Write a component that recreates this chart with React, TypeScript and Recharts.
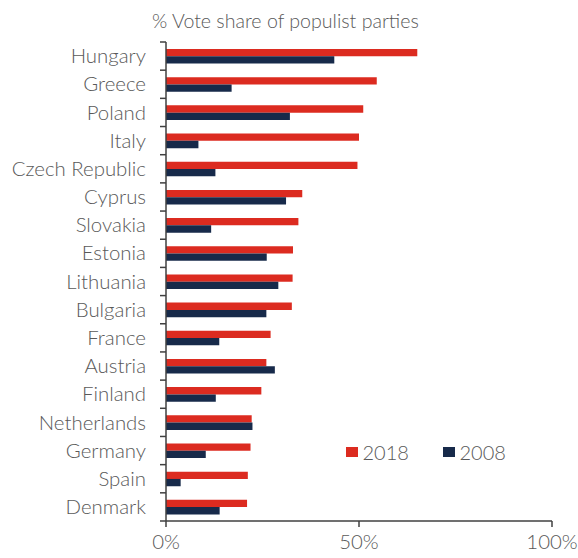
import React from 'react';
import { BarChart, Bar, XAxis, YAxis } from 'recharts';

const countries = ['Hungary', 'Greece', 'Poland', 'Italy', 'Czech Republic', 'Cyprus', 'Slovakia', 'Estonia', 'Lithuania', 'Bulgaria', 'France', 'Austria', 'Finland', 'Netherlands', 'Germany', 'Spain', 'Denmark'];
const share2018 = [65.1, 54.6, 51.1, 50.0, 49.6, 35.3, 34.3, 32.9, 32.8, 32.6, 27.1, 26.0, 24.7, 22.2, 21.9, 21.2, 21.0];
const share2008 = [43.6, 17.0, 32.1, 8.4, 12.8, 31.1, 11.7, 26.1, 29.1, 26.0, 13.8, 28.2, 12.9, 22.4, 10.3, 3.8, 13.9];
const xTicks = [0, 50, 100];
const seriesNames = ['2018', '2008'];

const data = countries.map((c, i) => ({ country: c, y2018: share2018[i], y2008: share2008[i] }));

const W = 578;
const H = 558;
const M = { top: 42, right: 26, left: 0, bottom: 0 };
const YW = 166;
const XH = 37;
const AXIS_X = M.left + YW;
const BAND = (H - M.top - M.bottom - XH) / countries.length;

const RED = '#DC2B20';
const NAVY = '#172A4A';
const TEXT = '#595959';
const AXIS = '#404040';
const FONT = 'Lato, "Open Sans", sans-serif';

const YTick = (props: any) => {
  const { y, payload, index } = props;
  const top = y - BAND / 2;
  const isLast = index === countries.length - 1;
  return (
    <g>
      <line x1={AXIS_X - 6} x2={AXIS_X} y1={top} y2={top} stroke={AXIS} strokeWidth={1.5} />
      {isLast && <line x1={AXIS_X - 6} x2={AXIS_X} y1={top + BAND} y2={top + BAND} stroke={AXIS} strokeWidth={1.5} />}
      <text x={AXIS_X - 20} y={y} dy="0.35em" textAnchor="end" fill={TEXT} fontSize={20.4} fontFamily={FONT} fontWeight={300}>
        {payload.value}
      </text>
    </g>
  );
};

const LegendBox = () => {
  const colors = [RED, NAVY];
  return (
    <div style={{ position: 'absolute', left: 346, top: 442, display: 'flex', alignItems: 'center' }}>
      {seriesNames.map((n, i) => (
        <div key={n} style={{ display: 'flex', alignItems: 'center', width: 97 }}>
          <div style={{ width: 11.5, height: 10.5, background: colors[i], marginRight: 5 }} />
          <span style={{ color: TEXT, fontSize: 20, fontFamily: FONT, fontWeight: 300, lineHeight: '20px' }}>{n}</span>
        </div>
      ))}
    </div>
  );
};

export default function App() {
  return (
    <div style={{ position: 'absolute', left: 0, top: 0, width: W, height: H, background: '#fff' }}>
      <div style={{ position: 'absolute', left: 152, top: 9, color: TEXT, fontSize: 19.6, fontFamily: FONT, fontWeight: 300, whiteSpace: 'nowrap' }}>
        % Vote share of populist parties
      </div>
      <BarChart width={W} height={H} data={data} layout="vertical" margin={M} barGap={0} barSize={7.3}>
        <XAxis
          type="number"
          domain={[0, 100]}
          ticks={xTicks}
          tickFormatter={(v: number) => `${v}%`}
          height={XH}
          stroke={AXIS}
          strokeWidth={1.5}
          tickSize={6}
          tickMargin={8}
          tick={{ fill: TEXT, fontSize: 20.4, fontFamily: FONT, fontWeight: 300 }}
          interval={0}
        />
        <YAxis
          type="category"
          dataKey="country"
          width={YW}
          stroke={AXIS}
          strokeWidth={1.5}
          tickLine={false}
          tick={<YTick />}
          interval={0}
        />
        <Bar dataKey="y2018" name="2018" fill={RED} isAnimationActive={false} />
        <Bar dataKey="y2008" name="2008" fill={NAVY} isAnimationActive={false} />
      </BarChart>
      <LegendBox />
    </div>
  );
}
